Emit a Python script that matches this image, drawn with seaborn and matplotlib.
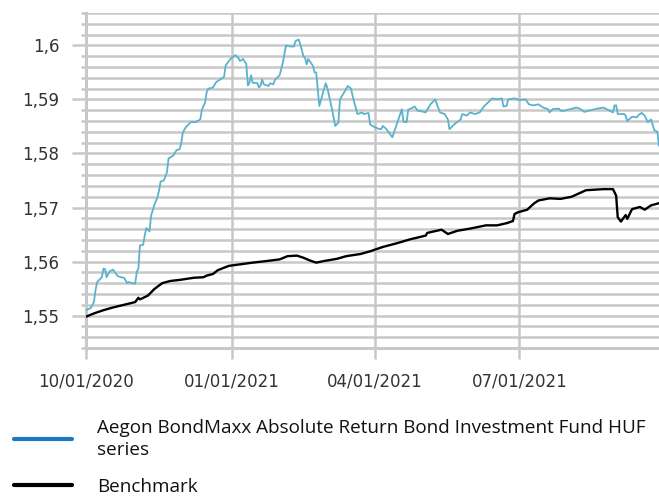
import matplotlib
matplotlib.use("Agg")
import matplotlib.pyplot as plt
from matplotlib.lines import Line2D
from matplotlib.ticker import FixedLocator
import numpy as np
import pandas as pd
import seaborn as sns

# ---------------- data ----------------
fund_dates = [
    "2020-10-01", "2020-10-04", "2020-10-06", "2020-10-07", "2020-10-08", "2020-10-10",
    "2020-10-11", "2020-10-12", "2020-10-13", "2020-10-14", "2020-10-15", "2020-10-16",
    "2020-10-18", "2020-10-19", "2020-10-21", "2020-10-23", "2020-10-25", "2020-10-27",
    "2020-10-28", "2020-10-30", "2020-11-01", "2020-11-02", "2020-11-03", "2020-11-04",
    "2020-11-06", "2020-11-07", "2020-11-08", "2020-11-10", "2020-11-11", "2020-11-13",
    "2020-11-15", "2020-11-16", "2020-11-17", "2020-11-19", "2020-11-21", "2020-11-22",
    "2020-11-25", "2020-11-27", "2020-11-29", "2020-11-30", "2020-12-01", "2020-12-03",
    "2020-12-06", "2020-12-09", "2020-12-12", "2020-12-13", "2020-12-15", "2020-12-16",
    "2020-12-17", "2020-12-20", "2020-12-22", "2020-12-27", "2020-12-28", "2020-12-31",
    "2021-01-03", "2021-01-05", "2021-01-06", "2021-01-08", "2021-01-10", "2021-01-11",
    "2021-01-12", "2021-01-13", "2021-01-14", "2021-01-17", "2021-01-18", "2021-01-19",
    "2021-01-20", "2021-01-21", "2021-01-24", "2021-01-25", "2021-01-27", "2021-01-28",
    "2021-01-31", "2021-02-02", "2021-02-04", "2021-02-07", "2021-02-09", "2021-02-10",
    "2021-02-12", "2021-02-13", "2021-02-15", "2021-02-16", "2021-02-17", "2021-02-18",
    "2021-02-21", "2021-02-22", "2021-02-23", "2021-02-24", "2021-02-25", "2021-03-01",
    "2021-03-02", "2021-03-05", "2021-03-07", "2021-03-09", "2021-03-10", "2021-03-15",
    "2021-03-17", "2021-03-18", "2021-03-21", "2021-03-24", "2021-03-25", "2021-03-28",
    "2021-03-29", "2021-03-31", "2021-04-03", "2021-04-05", "2021-04-06", "2021-04-08",
    "2021-04-09", "2021-04-12", "2021-04-15", "2021-04-18", "2021-04-19", "2021-04-21",
    "2021-04-22", "2021-04-25", "2021-04-26", "2021-04-28", "2021-04-29", "2021-05-03",
    "2021-05-06", "2021-05-09", "2021-05-12", "2021-05-15", "2021-05-17", "2021-05-18",
    "2021-05-21", "2021-05-25", "2021-05-26", "2021-05-29", "2021-05-31", "2021-06-03",
    "2021-06-06", "2021-06-09", "2021-06-14", "2021-06-17", "2021-06-20", "2021-06-21",
    "2021-06-23", "2021-06-24", "2021-06-28", "2021-07-01", "2021-07-05", "2021-07-07",
    "2021-07-10", "2021-07-13", "2021-07-16", "2021-07-19", "2021-07-20", "2021-07-22",
    "2021-07-26", "2021-07-27", "2021-07-29", "2021-08-02", "2021-08-06", "2021-08-08",
    "2021-08-11", "2021-08-15", "2021-08-19", "2021-08-23", "2021-08-25", "2021-08-29",
    "2021-08-30", "2021-08-31", "2021-09-01", "2021-09-05", "2021-09-06", "2021-09-07",
    "2021-09-10", "2021-09-13", "2021-09-14", "2021-09-16", "2021-09-18", "2021-09-20",
    "2021-09-22", "2021-09-24", "2021-09-26", "2021-09-27",
]
fund_values = [
    1.5510, 1.5514, 1.5525, 1.5547, 1.5562, 1.5568,
    1.5571, 1.5587, 1.5586, 1.5571, 1.5577, 1.5582,
    1.5585, 1.5581, 1.5573, 1.5571, 1.5570, 1.5560,
    1.5562, 1.5560, 1.5559, 1.5581, 1.5587, 1.5630,
    1.5631, 1.5648, 1.5662, 1.5656, 1.5685, 1.5704,
    1.5719, 1.5731, 1.5748, 1.5750, 1.5765, 1.5791,
    1.5796, 1.5806, 1.5808, 1.5819, 1.5839, 1.5849,
    1.5858, 1.5858, 1.5863, 1.5881, 1.5894, 1.5913,
    1.5920, 1.5922, 1.5932, 1.5942, 1.5963, 1.5975,
    1.5982, 1.5977, 1.5971, 1.5975, 1.5965, 1.5926,
    1.5931, 1.5945, 1.5931, 1.5930, 1.5922, 1.5926,
    1.5937, 1.5928, 1.5925, 1.5930, 1.5928, 1.5936,
    1.5945, 1.5968, 1.6000, 1.5998, 1.5998, 1.6008,
    1.6011, 1.6002, 1.5980, 1.5977, 1.5965, 1.5975,
    1.5962, 1.5950, 1.5950, 1.5919, 1.5888, 1.5930,
    1.5922, 1.5882, 1.5851, 1.5857, 1.5900, 1.5925,
    1.5920, 1.5906, 1.5873, 1.5876, 1.5873, 1.5875,
    1.5854, 1.5850, 1.5846, 1.5845, 1.5851, 1.5846,
    1.5842, 1.5830, 1.5856, 1.5882, 1.5859, 1.5858,
    1.5881, 1.5885, 1.5887, 1.5879, 1.5879, 1.5876,
    1.5891, 1.5900, 1.5876, 1.5873, 1.5863, 1.5845,
    1.5854, 1.5863, 1.5873, 1.5870, 1.5876, 1.5873,
    1.5876, 1.5888, 1.5902, 1.5900, 1.5902, 1.5887,
    1.5888, 1.5900, 1.5902, 1.5899, 1.5900, 1.5891,
    1.5889, 1.5891, 1.5885, 1.5882, 1.5876, 1.5882,
    1.5883, 1.5879, 1.5879, 1.5882, 1.5885, 1.5883,
    1.5877, 1.5880, 1.5883, 1.5885, 1.5882, 1.5876,
    1.5889, 1.5889, 1.5873, 1.5873, 1.5870, 1.5860,
    1.5868, 1.5867, 1.5871, 1.5875, 1.5870, 1.5858,
    1.5863, 1.5843, 1.5840, 1.5814,
]

bench_dates = [
    "2020-10-01", "2020-10-06", "2020-10-12", "2020-10-18", "2020-10-25", "2020-11-01",
    "2020-11-03", "2020-11-04", "2020-11-09", "2020-11-13", "2020-11-18", "2020-11-23",
    "2020-11-29", "2020-12-08", "2020-12-14", "2020-12-16", "2020-12-20", "2020-12-23",
    "2020-12-30", "2021-01-04", "2021-01-14", "2021-01-23", "2021-01-31", "2021-02-05",
    "2021-02-11", "2021-02-15", "2021-02-19", "2021-02-23", "2021-02-28", "2021-03-08",
    "2021-03-14", "2021-03-23", "2021-03-29", "2021-04-06", "2021-04-15", "2021-04-23",
    "2021-05-03", "2021-05-04", "2021-05-13", "2021-05-17", "2021-05-23", "2021-05-31",
    "2021-06-10", "2021-06-17", "2021-06-23", "2021-06-27", "2021-06-28", "2021-06-30",
    "2021-07-06", "2021-07-10", "2021-07-13", "2021-07-20", "2021-07-27", "2021-08-03",
    "2021-08-09", "2021-08-12", "2021-08-23", "2021-08-29", "2021-08-31", "2021-09-01",
    "2021-09-03", "2021-09-06", "2021-09-07", "2021-09-10", "2021-09-15", "2021-09-18",
    "2021-09-22", "2021-09-27",
]
bench_values = [
    1.5498, 1.5504, 1.5510, 1.5515, 1.5520, 1.5525,
    1.5533, 1.5530, 1.5537, 1.5549, 1.5560, 1.5564,
    1.5566, 1.5570, 1.5571, 1.5574, 1.5577, 1.5584,
    1.5592, 1.5594, 1.5598, 1.5601, 1.5604, 1.5610,
    1.5611, 1.5607, 1.5602, 1.5598, 1.5601, 1.5605,
    1.5610, 1.5614, 1.5619, 1.5627, 1.5634, 1.5641,
    1.5648, 1.5653, 1.5659, 1.5651, 1.5657, 1.5661,
    1.5667, 1.5667, 1.5671, 1.5675, 1.5688, 1.5691,
    1.5696, 1.5707, 1.5713, 1.5717, 1.5716, 1.5720,
    1.5728, 1.5732, 1.5734, 1.5734, 1.5722, 1.5682,
    1.5674, 1.5686, 1.5679, 1.5697, 1.5701, 1.5696,
    1.5704, 1.5708,
]

series_labels = ["Aegon BondMaxx Absolute Return Bond Investment Fund HUF\nseries", "Benchmark"]
x_tick_dates = ["2020-10-01", "2021-01-01", "2021-04-01", "2021-07-01"]
x_tick_labels = ["10/01/2020", "01/01/2021", "04/01/2021", "07/01/2021"]
y_tick_values = [1.55, 1.56, 1.57, 1.58, 1.59, 1.60]
y_tick_labels = ["1,55", "1,56", "1,57", "1,58", "1,59", "1,6"]

# ---------------- styling ----------------
FUND_COLOR = "#5AB3CC"
FUND_LEGEND_COLOR = "#1B78C2"
BENCH_COLOR = "#000000"
GRID_COLOR = "#C8C8C8"
TEXT_COLOR = "#333333"

sns.set_theme(style="white")
plt.rcParams["font.family"] = ["DejaVu Sans"]

fund_df = pd.DataFrame({"date": pd.to_datetime(fund_dates), "value": fund_values})
bench_df = pd.DataFrame({"date": pd.to_datetime(bench_dates), "value": bench_values})

fig = plt.figure(figsize=(6.59, 5.0), dpi=100)
ax = fig.add_axes([86 / 659, 1 - 348 / 500, (659 - 86) / 659, (348 - 13) / 500])

sns.lineplot(data=bench_df, x="date", y="value", color=BENCH_COLOR, linewidth=1.7,
             ax=ax, legend=False, zorder=3)
sns.lineplot(data=fund_df, x="date", y="value", color=FUND_COLOR, linewidth=1.3,
             ax=ax, legend=False, zorder=4)

ax.set_xlim(pd.Timestamp("2020-10-01"), pd.Timestamp("2021-09-27"))
ax.set_ylim(1.544, 1.606)

ax.set_xticks(pd.to_datetime(x_tick_dates))
ax.set_xticklabels(x_tick_labels)
ax.set_yticks(y_tick_values)
ax.set_yticklabels(y_tick_labels)
ax.yaxis.set_minor_locator(FixedLocator(np.arange(1.544, 1.6065, 0.002)))

ax.grid(True, which="major", axis="x", color=GRID_COLOR, linewidth=1.8)
ax.grid(True, which="both", axis="y", color=GRID_COLOR, linewidth=1.8)
ax.set_axisbelow(True)

for side in ["top", "right"]:
    ax.spines[side].set_visible(False)
for side in ["left", "bottom"]:
    ax.spines[side].set_color(GRID_COLOR)
    ax.spines[side].set_linewidth(2.2)

ax.tick_params(axis="y", which="major", length=10, width=1.8, color=GRID_COLOR,
               labelsize=12, labelcolor=TEXT_COLOR, pad=9, left=True)
ax.tick_params(axis="y", which="minor", length=3.5, width=1.8, color=GRID_COLOR, left=True)
ax.tick_params(axis="x", which="major", length=8, width=1.8, color=GRID_COLOR,
               labelsize=12, labelcolor=TEXT_COLOR, pad=10, bottom=True)
ax.set_xlabel("")
ax.set_ylabel("")

handles = [
    Line2D([0], [0], color=FUND_LEGEND_COLOR, linewidth=3),
    Line2D([0], [0], color=BENCH_COLOR, linewidth=3),
]
leg = fig.legend(handles, series_labels, loc="upper left", bbox_to_anchor=(14 / 659, 1 - 419 / 500),
                 frameon=False, prop={"family": "Open Sans", "size": 13.6},
                 handlelength=3.05, handletextpad=1.35, labelspacing=1.0, borderpad=0,
                 borderaxespad=0, labelcolor="#111111")
for t in leg.get_texts():
    t.set_linespacing(1.3)

fig.savefig("out.png", dpi=100)
